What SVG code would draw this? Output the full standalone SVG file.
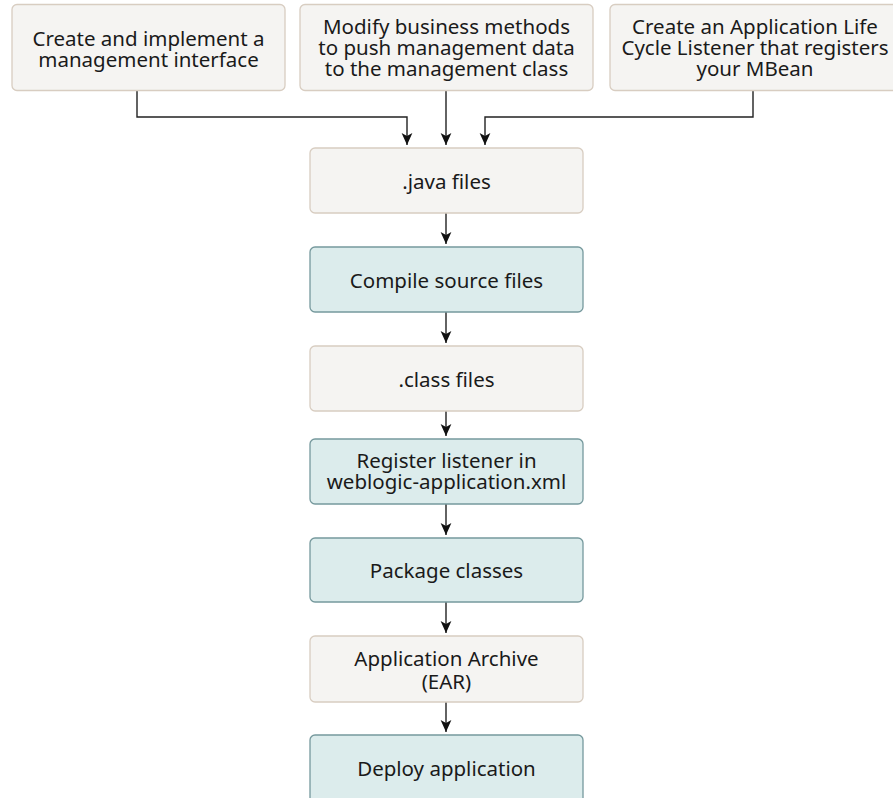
<svg xmlns="http://www.w3.org/2000/svg" width="893" height="798" viewBox="0 0 893 798">
<style>
.b{fill:#f5f4f2;stroke:#d8cdc1;stroke-width:1.3}
.t{fill:#dcecec;stroke:#76999d;stroke-width:1.3}
text{font-family:"Noto Sans","Open Sans",sans-serif;font-size:20.5px;fill:#1a1a1a;text-anchor:middle}
.c{fill:none;stroke:#222;stroke-width:1.4}
</style>
<defs>
<marker id="ah" markerWidth="12" markerHeight="12" refX="10" refY="5" orient="auto" markerUnits="userSpaceOnUse" viewBox="0 0 10 10">
<path d="M0,0.5 L10,5 L0,9.5 L2.5,5 z" fill="#111"/>
</marker>
</defs>
<rect width="893" height="798" fill="#ffffff"/>
<g id="connectors">
<path class="c" d="M137,91 V117 H407 V145" marker-end="url(#ah)"/>
<path class="c" d="M446,91 V145" marker-end="url(#ah)"/>
<path class="c" d="M753,91 V117 H485 V145" marker-end="url(#ah)"/>
<path class="c" d="M446,213 V244" marker-end="url(#ah)"/>
<path class="c" d="M446,312 V343" marker-end="url(#ah)"/>
<path class="c" d="M446,411 V436" marker-end="url(#ah)"/>
<path class="c" d="M446,504 V535" marker-end="url(#ah)"/>
<path class="c" d="M446,602 V633" marker-end="url(#ah)"/>
<path class="c" d="M446,702 V732" marker-end="url(#ah)"/>
</g>
<g id="n1"><rect class="b" x="12" y="4.5" width="273" height="86" rx="5"/>
<text x="148.5" y="45.5">Create and implement a</text><text x="148.5" y="66.5">management interface</text></g>
<g id="n2"><rect class="b" x="300" y="4.5" width="293" height="86" rx="5"/>
<text x="446.5" y="33.5">Modify business methods</text><text x="446.5" y="54.5">to push management data</text><text x="446.5" y="75.5">to the management class</text></g>
<g id="n3"><rect class="b" x="610" y="4.5" width="293" height="86" rx="5"/>
<text x="755" y="33.5">Create an Application Life</text><text x="755" y="54.5">Cycle Listener that registers</text><text x="755" y="75.5">your MBean</text></g>
<g id="n4"><rect class="b" x="310" y="148" width="273" height="65" rx="5"/>
<text x="446.5" y="189">.java files</text></g>
<g id="n5"><rect class="t" x="310" y="247" width="273" height="65" rx="5"/>
<text x="446.5" y="287.5">Compile source files</text></g>
<g id="n6"><rect class="b" x="310" y="346" width="273" height="65" rx="5"/>
<text x="446.5" y="386.5">.class files</text></g>
<g id="n7"><rect class="t" x="310" y="439" width="273" height="65" rx="5"/>
<text x="446.5" y="467.5">Register listener in</text><text x="446.5" y="489">weblogic-application.xml</text></g>
<g id="n8"><rect class="t" x="310" y="538" width="273" height="64" rx="5"/>
<text x="446.5" y="578">Package classes</text></g>
<g id="n9"><rect class="b" x="310" y="636" width="273" height="66" rx="5"/>
<text x="446.5" y="665.5">Application Archive</text><text x="446.5" y="688.5">(EAR)</text></g>
<g id="n10"><rect class="t" x="310" y="735" width="273" height="70" rx="5"/>
<text x="446.5" y="776">Deploy application</text></g>
</svg>
